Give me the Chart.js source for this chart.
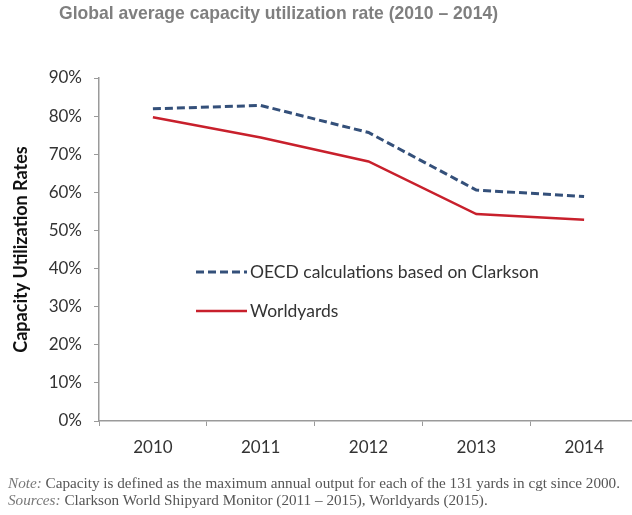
<!DOCTYPE html>
<html>
<head>
<meta charset="utf-8">
<script src="https://cdn.jsdelivr.net/npm/chart.js@4.4.1/dist/chart.umd.min.js"></script>
<style>
  html, body { margin: 0; padding: 0; background: #fff; overflow: hidden; }
  #wrap { position: relative; width: 632px; height: 515px; overflow: hidden; }
  #myChart { position: absolute; left: 0; top: 0; }
  .note {
    position: absolute; left: 8px; top: 474px;
    font-family: "Liberation Serif", "Times New Roman", serif;
    font-size: 15.2px; line-height: 17px; color: #555;
    white-space: nowrap;
  }
  .note i { color: #777; }
</style>
</head>
<body>
<div id="wrap">
  <canvas id="myChart" width="640" height="515"></canvas>
  <div class="note">
    <div><i>Note:</i> Capacity is defined as the maximum annual output for each of the 131 yards in cgt since 2000.</div>
    <div><i>Sources:</i> Clarkson World Shipyard Monitor (2011 – 2015), Worldyards (2015).</div>
  </div>
</div>
<script>
// capacity utilization, percent
var years = ['2010', '2011', '2012', '2013', '2014'];
var oecdRates = [81.9, 82.8, 75.7, 60.6, 58.9];
var worldyardsRates = [79.7, 74.4, 68.1, 54.3, 52.8];
var yMin = 0, yMax = 90, yStep = 10;

var titleText = 'Global average capacity utilization rate (2010 \u2013 2014)';

// title sits off-centre, squeezed into a fixed width
var titlePlugin = {
    id: 'topTitle',
    afterDraw: function (chart) {
        var ctx = chart.ctx;
        ctx.save();
        ctx.font = 'bold 19px "Liberation Sans Narrow", "Liberation Sans", Arial, sans-serif';
        ctx.fillStyle = '#7f7f7f';
        ctx.textBaseline = 'alphabetic';
        var w = ctx.measureText(titleText).width;
        var target = 439;
        ctx.translate(59, 19);
        if (w > target) ctx.scale(target / w, 1);
        ctx.fillText(titleText, 0, 0);
        ctx.restore();
    }
};

// legend drawn inside the plot area
var legendPlugin = {
    id: 'innerLegend',
    afterDatasetsDraw: function (chart) {
        var ctx = chart.ctx;
        var rows = [272, 311];
        chart.data.datasets.forEach(function (ds, i) {
            var y = rows[i];
            ctx.save();
            ctx.strokeStyle = ds.borderColor;
            ctx.lineWidth = ds.borderWidth;
            ctx.setLineDash(ds.borderDash || []);
            ctx.beginPath();
            ctx.moveTo(196, y);
            ctx.lineTo(247, y);
            ctx.stroke();
            ctx.setLineDash([]);
            ctx.font = '17.5px Lato, "Open Sans", sans-serif';
            ctx.fillStyle = '#333';
            ctx.textBaseline = 'middle';
            ctx.fillText(ds.label, 250, y);
            ctx.restore();
        });
    }
};

var tickFont = { family: 'Lato, "Open Sans", sans-serif', size: 17 };

var ctx = document.getElementById('myChart').getContext('2d');
var chart = new Chart(ctx, {
    type: 'line',
    data: {
        labels: years,
        datasets: [{
            label: 'OECD calculations based on Clarkson',
            data: oecdRates,
            borderColor: '#34507a',
            borderWidth: 3,
            borderDash: [8, 4],
            pointRadius: 0,
            tension: 0,
            fill: false
        }, {
            label: 'Worldyards',
            data: worldyardsRates,
            borderColor: '#c8202c',
            borderWidth: 2.5,
            pointRadius: 0,
            tension: 0,
            fill: false
        }]
    },
    options: {
        responsive: false,
        animation: false,
        layout: { padding: { top: 78, left: 0, right: 2, bottom: 0 } },
        plugins: {
            legend: { display: false },
            tooltip: { enabled: false },
            title: { display: false }
        },
        scales: {
            x: {
                offset: true,
                grid: {
                    offset: true,
                    drawOnChartArea: false,
                    drawTicks: true,
                    tickLength: 5,
                    color: '#9a9a9a'
                },
                border: { color: '#9a9a9a', width: 1.5 },
                ticks: {
                    padding: 11,
                    color: '#333',
                    font: tickFont
                },
                afterFit: function (scale) { scale.height = 94; }
            },
            y: {
                min: yMin,
                max: yMax,
                grid: {
                    drawOnChartArea: false,
                    drawTicks: true,
                    tickLength: 5,
                    color: '#9a9a9a'
                },
                border: { color: '#9a9a9a', width: 1.5 },
                ticks: {
                    stepSize: yStep,
                    padding: 12,
                    color: '#333',
                    font: tickFont,
                    callback: function (v) { return v + '%'; }
                },
                title: {
                    display: true,
                    text: 'Capacity Utilization Rates',
                    color: '#111',
                    padding: { top: 10, bottom: 0 },
                    font: { family: 'Lato, "Open Sans", sans-serif', size: 18, weight: 'bold' }
                },
                afterFit: function (scale) { scale.width = 99; }
            }
        }
    },
    plugins: [titlePlugin, legendPlugin]
});
</script>
</body>
</html>
